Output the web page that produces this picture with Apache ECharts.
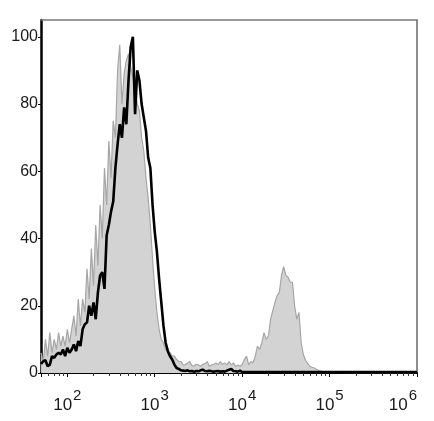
<!DOCTYPE html>
<html>
<head>
<meta charset="utf-8">
<script src="https://cdn.jsdelivr.net/npm/echarts@6/dist/echarts.min.js"></script>
<style>
html,body{margin:0;padding:0;background:#fff;}
#chart{width:434px;height:421px;}
</style>
</head>
<body>
<div id="chart"></div>
<script>
// bin positions (log10 of fluorescence intensity)
const bins = [
1.700,1.725,1.750,1.775,1.800,1.825,1.850,1.875,1.900,1.925,
1.950,1.975,2.000,2.025,2.050,2.075,2.100,2.125,2.150,2.175,
2.200,2.225,2.250,2.275,2.300,2.325,2.350,2.375,2.400,2.425,
2.450,2.475,2.500,2.525,2.550,2.575,2.600,2.625,2.650,2.675,
2.700,2.725,2.750,2.775,2.800,2.825,2.850,2.875,2.900,2.925,
2.950,2.975,3.000,3.025,3.050,3.075,3.100,3.125,3.150,3.175,
3.200,3.225,3.250,3.275,3.300,3.325,3.350,3.375,3.400,3.425,
3.450,3.475,3.500,3.525,3.550,3.575,3.600,3.625,3.650,3.675,
3.700,3.725,3.750,3.775,3.800,3.825,3.850,3.875,3.900,3.925,
3.950,3.975,4.000,4.025,4.050,4.075,4.100,4.125,4.150,4.175,
4.200,4.225,4.250,4.275,4.300,4.325,4.350,4.375,4.400,4.425,
4.450,4.475,4.500,4.525,4.550,4.575,4.600,4.625,4.650,4.675,
4.700,4.725,4.750,4.775,4.800,4.825,4.850,4.875,4.900,4.925,
4.950,
5.0,5.1,5.2,5.3,5.4,5.5,5.6,5.7,5.8,5.9,6.0
];
// control (gray filled) histogram, % of max
const grayValues = [
6,3,10,5,12,6,10,7,12,8,
11,8,13,9,13,17,11,22,14,22,
18,31,22,37,26,44,32,50,40,61,
50,69,58,75,70,90,97.6,80,89,93,
95,91,88,84,80,78,70,66,58,52,
44,34,25,18,13,10,9,7,6.5,6,
5,5,4,3.5,3.4,2.4,2.5,3,3.4,2.2,
2,2.6,2.4,2,2.6,2.8,3.4,2,2.4,2.6,
3,2.5,3.4,2.6,3,2.4,3.4,2.4,3,1.9,
2.4,2,2.5,4,5,2.4,3.4,3,5,8,
7,9,12,10,11,16,18.5,21,23,24,
29,31.6,29,28.5,27,27,20,16,18,9,
5.5,3.8,2.8,2,1.7,1.5,1.1,0.8,0.6,0.4,
0.3,
0.2,0.2,0.1,0.1,0.1,0.1,0.1,0.1,0.1,0.1,0.1
];
// stained sample (black line) histogram, % of max
const blackValues = [
2.7,3.5,3.8,2,2.5,5,4.5,5.5,6,5.5,
7,5,7.5,6,7,8.5,6.5,9.5,8,13,
14.5,15,20,17,21,16,24,29,30,25,
41,44,48,51,61,68,74,70,79,74,
87,97,100,77,90,87,80,76,72,64,
61,50,42,36,28,21,14,9,6.5,5,
4,2.5,1.5,1.2,0.8,0.7,0.6,0.8,0.5,0.6,
0.4,0.6,0.5,0.8,1.0,0.6,0.5,0.7,0.5,0.4,
0.5,0.6,0.4,0.5,0.4,0.7,1.0,1.2,0.6,0.5,
0.4,0.7,0.3,0.3,0.3,0.3,0.3,0.3,0.3,0.3,
0.3,0.3,0.3,0.3,0.3,0.3,0.3,0.3,0.3,0.3,
0.3,0.3,0.3,0.3,0.3,0.3,0.3,0.3,0.3,0.3,
0.3,0.3,0.3,0.3,0.3,0.3,0.3,0.3,0.3,0.3,
0.3,
0.3,0.3,0.3,0.3,0.3,0.3,0.3,0.3,0.3,0.3,0.3
];
const yTicks = [0, 20, 40, 60, 80, 100];
const xMin = 50, xMax = 1e6, yMax = 105;

const grayData = bins.map((b, i) => [Math.pow(10, b), grayValues[i]]);
const blackData = bins.map((b, i) => [Math.pow(10, b), blackValues[i]]);

const FONT = 'Liberation Sans';
const chart = echarts.init(document.getElementById('chart'), null, {renderer: 'canvas'});
chart.setOption({
  animation: false,
  backgroundColor: '#ffffff',
  grid: {left: 41, right: 17, top: 20, bottom: 48, containLabel: false},
  xAxis: [{
    type: 'log', logBase: 10, min: xMin, max: xMax,
    position: 'bottom',
    axisLine: {show: true, onZero: false, lineStyle: {color: '#000', width: 2}},
    axisTick: {show: true, inside: false, length: 4, lineStyle: {color: '#000', width: 1}},
    minorTick: {show: true, splitNumber: 9, length: 3, lineStyle: {color: '#333', width: 1}},
    splitLine: {show: false},
    axisLabel: {
      margin: 12,
      color: '#1a1a1a',
      fontFamily: FONT,
      alignMaxLabel: 'right',
      formatter: function (v) {
        const l = Math.log10(v);
        const e = Math.round(l);
        if (Math.abs(l - e) > 1e-6) return '';
        return '{a|10}{b|' + e + '}';
      },
      rich: {
        a: {fontSize: 17, fontFamily: FONT, color: '#1a1a1a', padding: [12, 0, 0, 0]},
        b: {fontSize: 15, fontFamily: FONT, color: '#1a1a1a', padding: [0, 0, 8, 1]}
      }
    }
  }, {
    type: 'value', position: 'top', min: 0, max: 1,
    axisLine: {show: true, onZero: false, lineStyle: {color: '#7a7a7a', width: 1.5}},
    axisTick: {show: false}, axisLabel: {show: false}, splitLine: {show: false}
  }],
  yAxis: [{
    type: 'value', min: 0, max: yMax, interval: 20,
    axisLine: {show: true, onZero: false, lineStyle: {color: '#000', width: 2.5}},
    axisTick: {show: true, inside: false, length: 3, lineStyle: {color: '#000', width: 1}},
    splitLine: {show: false},
    axisLabel: {
      margin: 3, fontSize: 16, color: '#1a1a1a', fontFamily: FONT,
      showMaxLabel: false,
      formatter: function (v) { return yTicks.indexOf(v) >= 0 ? String(v) : ''; }
    }
  }, {
    type: 'value', position: 'right', min: 0, max: yMax,
    axisLine: {show: true, onZero: false, lineStyle: {color: '#6a6a6a', width: 1.5}},
    axisTick: {show: false}, axisLabel: {show: false}, splitLine: {show: false}
  }],
  series: [{
    type: 'line', data: grayData, showSymbol: false, symbol: 'none',
    lineStyle: {color: '#a6a6a6', width: 1.2},
    areaStyle: {color: '#d3d3d3', opacity: 1},
    z: 2
  }, {
    type: 'line', data: blackData, showSymbol: false, symbol: 'none',
    lineStyle: {color: '#000', width: 2.6},
    z: 3
  }]
});
</script>
</body>
</html>
